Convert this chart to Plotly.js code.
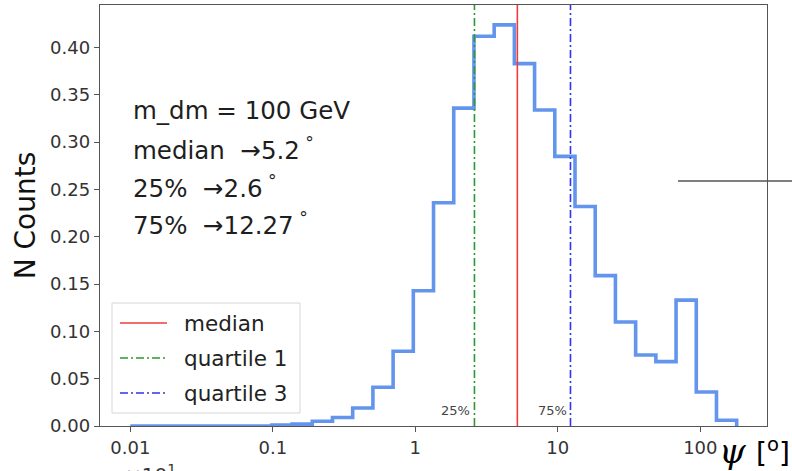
<!DOCTYPE html>
<html>
<head>
<meta charset="utf-8">
<script src="https://cdn.plot.ly/plotly-3.0.1.min.js"></script>
<style>html,body{margin:0;padding:0;background:#fff;}#chart{width:792px;height:471px;}</style>
</head>
<body>
<div id="chart"></div>
<script>
// Bin edges (log-spaced, degrees)
const binEdges = [0.01, 0.013865, 0.019223, 0.026652, 0.036953, 0.051235, 0.071036, 0.098481,
  0.13643, 0.18913, 0.26219, 0.36345, 0.50386, 0.69845, 0.96787, 1.3418, 1.8601, 2.5786,
  3.5748, 4.9551, 6.8691, 9.5215, 13.201, 18.296, 25.368, 35.166, 48.753, 67.562, 93.680,
  129.85, 180.0];
// Normalised counts per bin (30 bins)
const binCounts = [0, 0, 0, 0, 0, 0, 0, 0.001, 0.002, 0.005, 0.009, 0.019, 0.041, 0.079,
  0.143, 0.236, 0.336, 0.412, 0.424, 0.383, 0.334, 0.285, 0.232, 0.159, 0.110, 0.075,
  0.068, 0.133, 0.036, 0.006];
const medianVal = 5.2;
const q1Val = 2.6;
const q3Val = 12.27;
const yTicks = [0, 0.05, 0.10, 0.15, 0.20, 0.25, 0.30, 0.35, 0.40];
const xTickVals = [0.01, 0.1, 1, 10, 100];
const xTickText = ['0.01', '0.1', '1', '10', '100'];
const legendNames = ['median', 'quartile 1', 'quartile 3'];
const infoLines = ['m_dm = 100 GeV', 'median  →5.2<sup> °</sup>', '25%  →2.6<sup> °</sup>', '75%  →12.27<sup> °</sup>'];

const YMAX = 0.445;
const FONT = 'DejaVu Sans, sans-serif';

// step path
const sx = [binEdges[0]];
const sy = [0];
for (let i = 0; i < binCounts.length; i++) { sx.push(binEdges[i]); sy.push(binCounts[i]); }
sx.push(binEdges[binEdges.length - 1]); sy.push(0);

const lineColors = ['#f03c3c', '#2e9a2e', '#3232f0'];
const lineDash = ['solid', '8px,3px,2px,3px', '8px,3px,2px,3px'];
const lineVals = [medianVal, q1Val, q3Val];

const traces = [{
  x: sx, y: sy, type: 'scatter', mode: 'lines',
  line: {shape: 'hv', color: '#6495ED', width: 3.6},
  hoverinfo: 'skip', showlegend: false
}];
for (let i = 0; i < 3; i++) {
  traces.push({x: [lineVals[i], lineVals[i]], y: [0, 1], type: 'scatter', mode: 'lines',
    line: {color: lineColors[i], width: 1.6, dash: lineDash[i]}, showlegend: false, hoverinfo: 'skip'});
}

// pixel -> paper helpers (plot area: left 100, top 5, width 667, height 421)
const L = 100, T = 5, W = 667, H = 421;
const px = v => (v - L) / W;
const py = v => (T + H - v) / H;

const annotations = [];
const infoY = [111, 149, 187, 224];
infoLines.forEach((t, i) => annotations.push({
  xref: 'paper', yref: 'paper', x: px(131), y: py(infoY[i]), xanchor: 'left', yanchor: 'middle',
  text: t, showarrow: false, font: {family: FONT, size: 24.5, color: '#1e1e1e'}
}));
annotations.push({xref: 'x', yref: 'paper', x: Math.log10(q1Val), y: py(410), xanchor: 'right', yanchor: 'middle',
  xshift: -2, text: '25%', showarrow: false, font: {family: FONT, size: 13, color: '#444'}});
annotations.push({xref: 'x', yref: 'paper', x: Math.log10(q3Val), y: py(410), xanchor: 'right', yanchor: 'middle',
  xshift: -1, text: '75%', showarrow: false, font: {family: FONT, size: 13, color: '#444'}});
// legend
const legRows = [323, 358, 393];
legendNames.forEach((n, i) => annotations.push({
  xref: 'paper', yref: 'paper', x: px(182), y: py(legRows[i]), xanchor: 'left', yanchor: 'middle',
  text: n, showarrow: false, font: {family: FONT, size: 21.5, color: '#222'}
}));
// x axis label
annotations.push({xref: 'paper', yref: 'paper', x: px(732), y: py(451), xanchor: 'center', yanchor: 'middle',
  text: '<i>ψ</i>', showarrow: false, font: {family: 'DejaVu Serif, serif', size: 34, color: '#000'}});
annotations.push({xref: 'paper', yref: 'paper', x: px(773), y: py(451), xanchor: 'center', yanchor: 'middle',
  text: '[<sup>o</sup>]', showarrow: false, font: {family: FONT, size: 28, color: '#000'}});
annotations.push({xref: 'paper', yref: 'paper', x: px(150), y: py(474), xanchor: 'center', yanchor: 'middle',
  text: '×10<sup>1</sup>', showarrow: false, font: {family: FONT, size: 20, color: '#333'}});

const shapes = [
  {type: 'rect', xref: 'paper', yref: 'paper', x0: px(112), x1: px(300), y0: py(413), y1: py(303),
   line: {color: '#d6d6d6', width: 1}, fillcolor: 'rgba(255,255,255,0.85)'},
  {type: 'line', xref: 'paper', yref: 'paper', x0: px(678), x1: px(792), y0: py(181), y1: py(181),
   line: {color: '#555', width: 1.6}}
];
legRows.forEach((r, i) => shapes.push({type: 'line', xref: 'paper', yref: 'paper',
  x0: px(120), x1: px(167), y0: py(r), y1: py(r), line: {color: lineColors[i], width: 1.6, dash: lineDash[i]}}));

const layout = {
  width: 792, height: 471,
  margin: {l: L, r: 792 - L - W, t: T, b: 471 - T - H},
  paper_bgcolor: '#fff', plot_bgcolor: '#fff',
  showlegend: false,
  xaxis: {
    type: 'log', range: [-2.213, 2.468], tickvals: xTickVals, ticktext: xTickText,
    ticks: 'outside', ticklen: 5, tickcolor: '#555', showgrid: false, zeroline: false,
    showline: true, linecolor: '#555', linewidth: 1.3, mirror: true,
    tickfont: {family: FONT, size: 18, color: '#333'}
  },
  yaxis: {
    range: [0, YMAX], tickvals: yTicks, tickformat: '.2f',
    ticks: 'outside', ticklen: 5, tickcolor: '#555', showgrid: false, zeroline: false,
    showline: true, linecolor: '#555', linewidth: 1.3, mirror: true,
    tickfont: {family: FONT, size: 18, color: '#333'},
    title: {text: 'N Counts', font: {family: FONT, size: 28, color: '#111'}, standoff: 6}
  },
  annotations: annotations,
  shapes: shapes
};

Plotly.newPlot('chart', traces, layout, {staticPlot: true, displayModeBar: false});
</script>
</body>
</html>
